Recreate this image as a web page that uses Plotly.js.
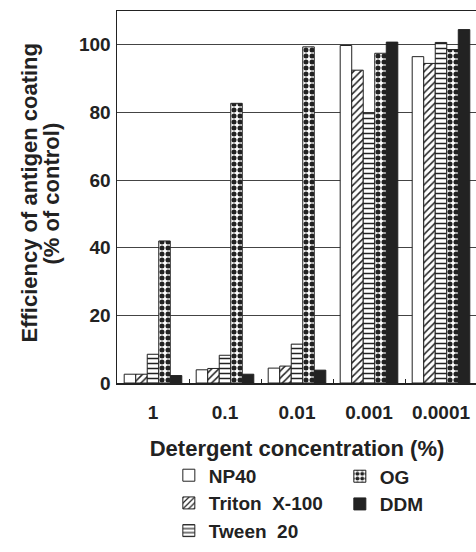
<!DOCTYPE html>
<html><head><meta charset="utf-8">
<script src="https://cdn.plot.ly/plotly-3.0.1.min.js"></script>
<style>html,body{margin:0;padding:0;overflow:hidden;background:#fff}</style>
</head><body>
<div id="chart" style="width:480px;height:552px"></div>
<script>
const concentrations = ["1", "0.1", "0.01", "0.001", "0.0001"];
const np40   = [2.6, 3.9, 4.4, 99.8, 96.5];
const triton = [2.6, 4.3, 5.0, 92.5, 94.5];
const tween  = [8.5, 8.2, 11.5, 79.8, 100.7];
const og     = [42.0, 82.7, 99.4, 97.5, 98.6];
const ddm    = [2.2, 2.6, 3.8, 100.8, 104.5];
const seriesNames = ["NP40", "Triton  X-100", "Tween  20", "OG", "DDM"];
const yTitleLines = ["Efficiency of antigen coating", "(% of control)"];

const FONT = "Arial, 'Liberation Sans', Helvetica, sans-serif";
const ink = "#222";

function bar(name, y, shape, size, solidity, bg, legend) {
  return {
    type: "bar", name: name, x: concentrations, y: y,
    legend: legend,
    marker: {
      color: bg,
      line: {color: ink, width: 1},
      pattern: shape ? {shape: shape, fgcolor: ink, bgcolor: "#fff", size: size, solidity: solidity} : undefined
    },
    hoverinfo: "x+y"
  };
}

const data = [
  bar(seriesNames[0], np40, "", 6, 0.3, "#fff", "legend"),
  bar(seriesNames[1], triton, "/", 5, 0.3, "#fff", "legend"),
  bar(seriesNames[2], tween, "-", 5, 0.3, "#fff", "legend"),
  bar(seriesNames[3], og, ".", 6, 0.55, "#fff", "legend2"),
  bar(seriesNames[4], ddm, "", 6, 0.3, ink, "legend2")
];

const titleFont = {family: FONT, size: 22, color: ink, weight: "bold"};
const legendFont = {family: FONT, size: 19, color: ink, weight: "bold"};

const layout = {
  width: 480, height: 552,
  margin: {l: 117, r: 3, t: 11, b: 168},
  paper_bgcolor: "#fff", plot_bgcolor: "#fff",
  font: {family: FONT, size: 16, color: ink},
  barmode: "group", bargap: 0.2, bargroupgap: 0,
  showlegend: true,
  xaxis: {
    type: "category", range: [-0.5, 4.5],
    showline: true, mirror: true, linecolor: ink, linewidth: 1.5,
    showgrid: false, zeroline: false,
    ticks: "inside", tickson: "boundaries", ticklen: 4, tickcolor: ink,
    ticklabelstandoff: 12,
    tickfont: {family: FONT, size: 19, color: ink, weight: "bold"},
    title: {text: "Detergent concentration (%)", standoff: 18,
            font: {family: FONT, size: 22, color: ink, weight: "bold"}},
    automargin: false, fixedrange: true
  },
  yaxis: {
    range: [0, 110], tickvals: [0, 20, 40, 60, 80, 100],
    showline: true, mirror: true, linecolor: ink, linewidth: 1.5,
    showgrid: true, gridcolor: "#444", gridwidth: 1, zeroline: false,
    ticks: "", ticklabelstandoff: 1,
    tickfont: {family: FONT, size: 19, color: ink, weight: "bold"},
    automargin: false, fixedrange: true
  },
  annotations: [
    {text: yTitleLines[0], textangle: -90, xref: "paper", yref: "paper",
     x: (30 - 117) / 360, y: (384 - 194) / 373, xanchor: "center", yanchor: "middle",
     showarrow: false, font: titleFont},
    {text: yTitleLines[1], textangle: -90, xref: "paper", yref: "paper",
     x: (52 - 117) / 360, y: (384 - 194) / 373, xanchor: "center", yanchor: "middle",
     showarrow: false, font: titleFont}
  ],
  legend: {
    x: 0.144, xanchor: "left", y: -0.446, yanchor: "bottom",
    orientation: "v", traceorder: "normal",
    font: legendFont, bgcolor: "rgba(0,0,0,0)", borderwidth: 0
  },
  legend2: {
    x: 0.619, xanchor: "left", y: -0.446 + 27 / 373, yanchor: "bottom",
    orientation: "v", traceorder: "normal",
    font: legendFont, bgcolor: "rgba(0,0,0,0)", borderwidth: 0
  }
};

Plotly.newPlot("chart", data, layout, {displayModeBar: false, staticPlot: true});
</script>
</body></html>
